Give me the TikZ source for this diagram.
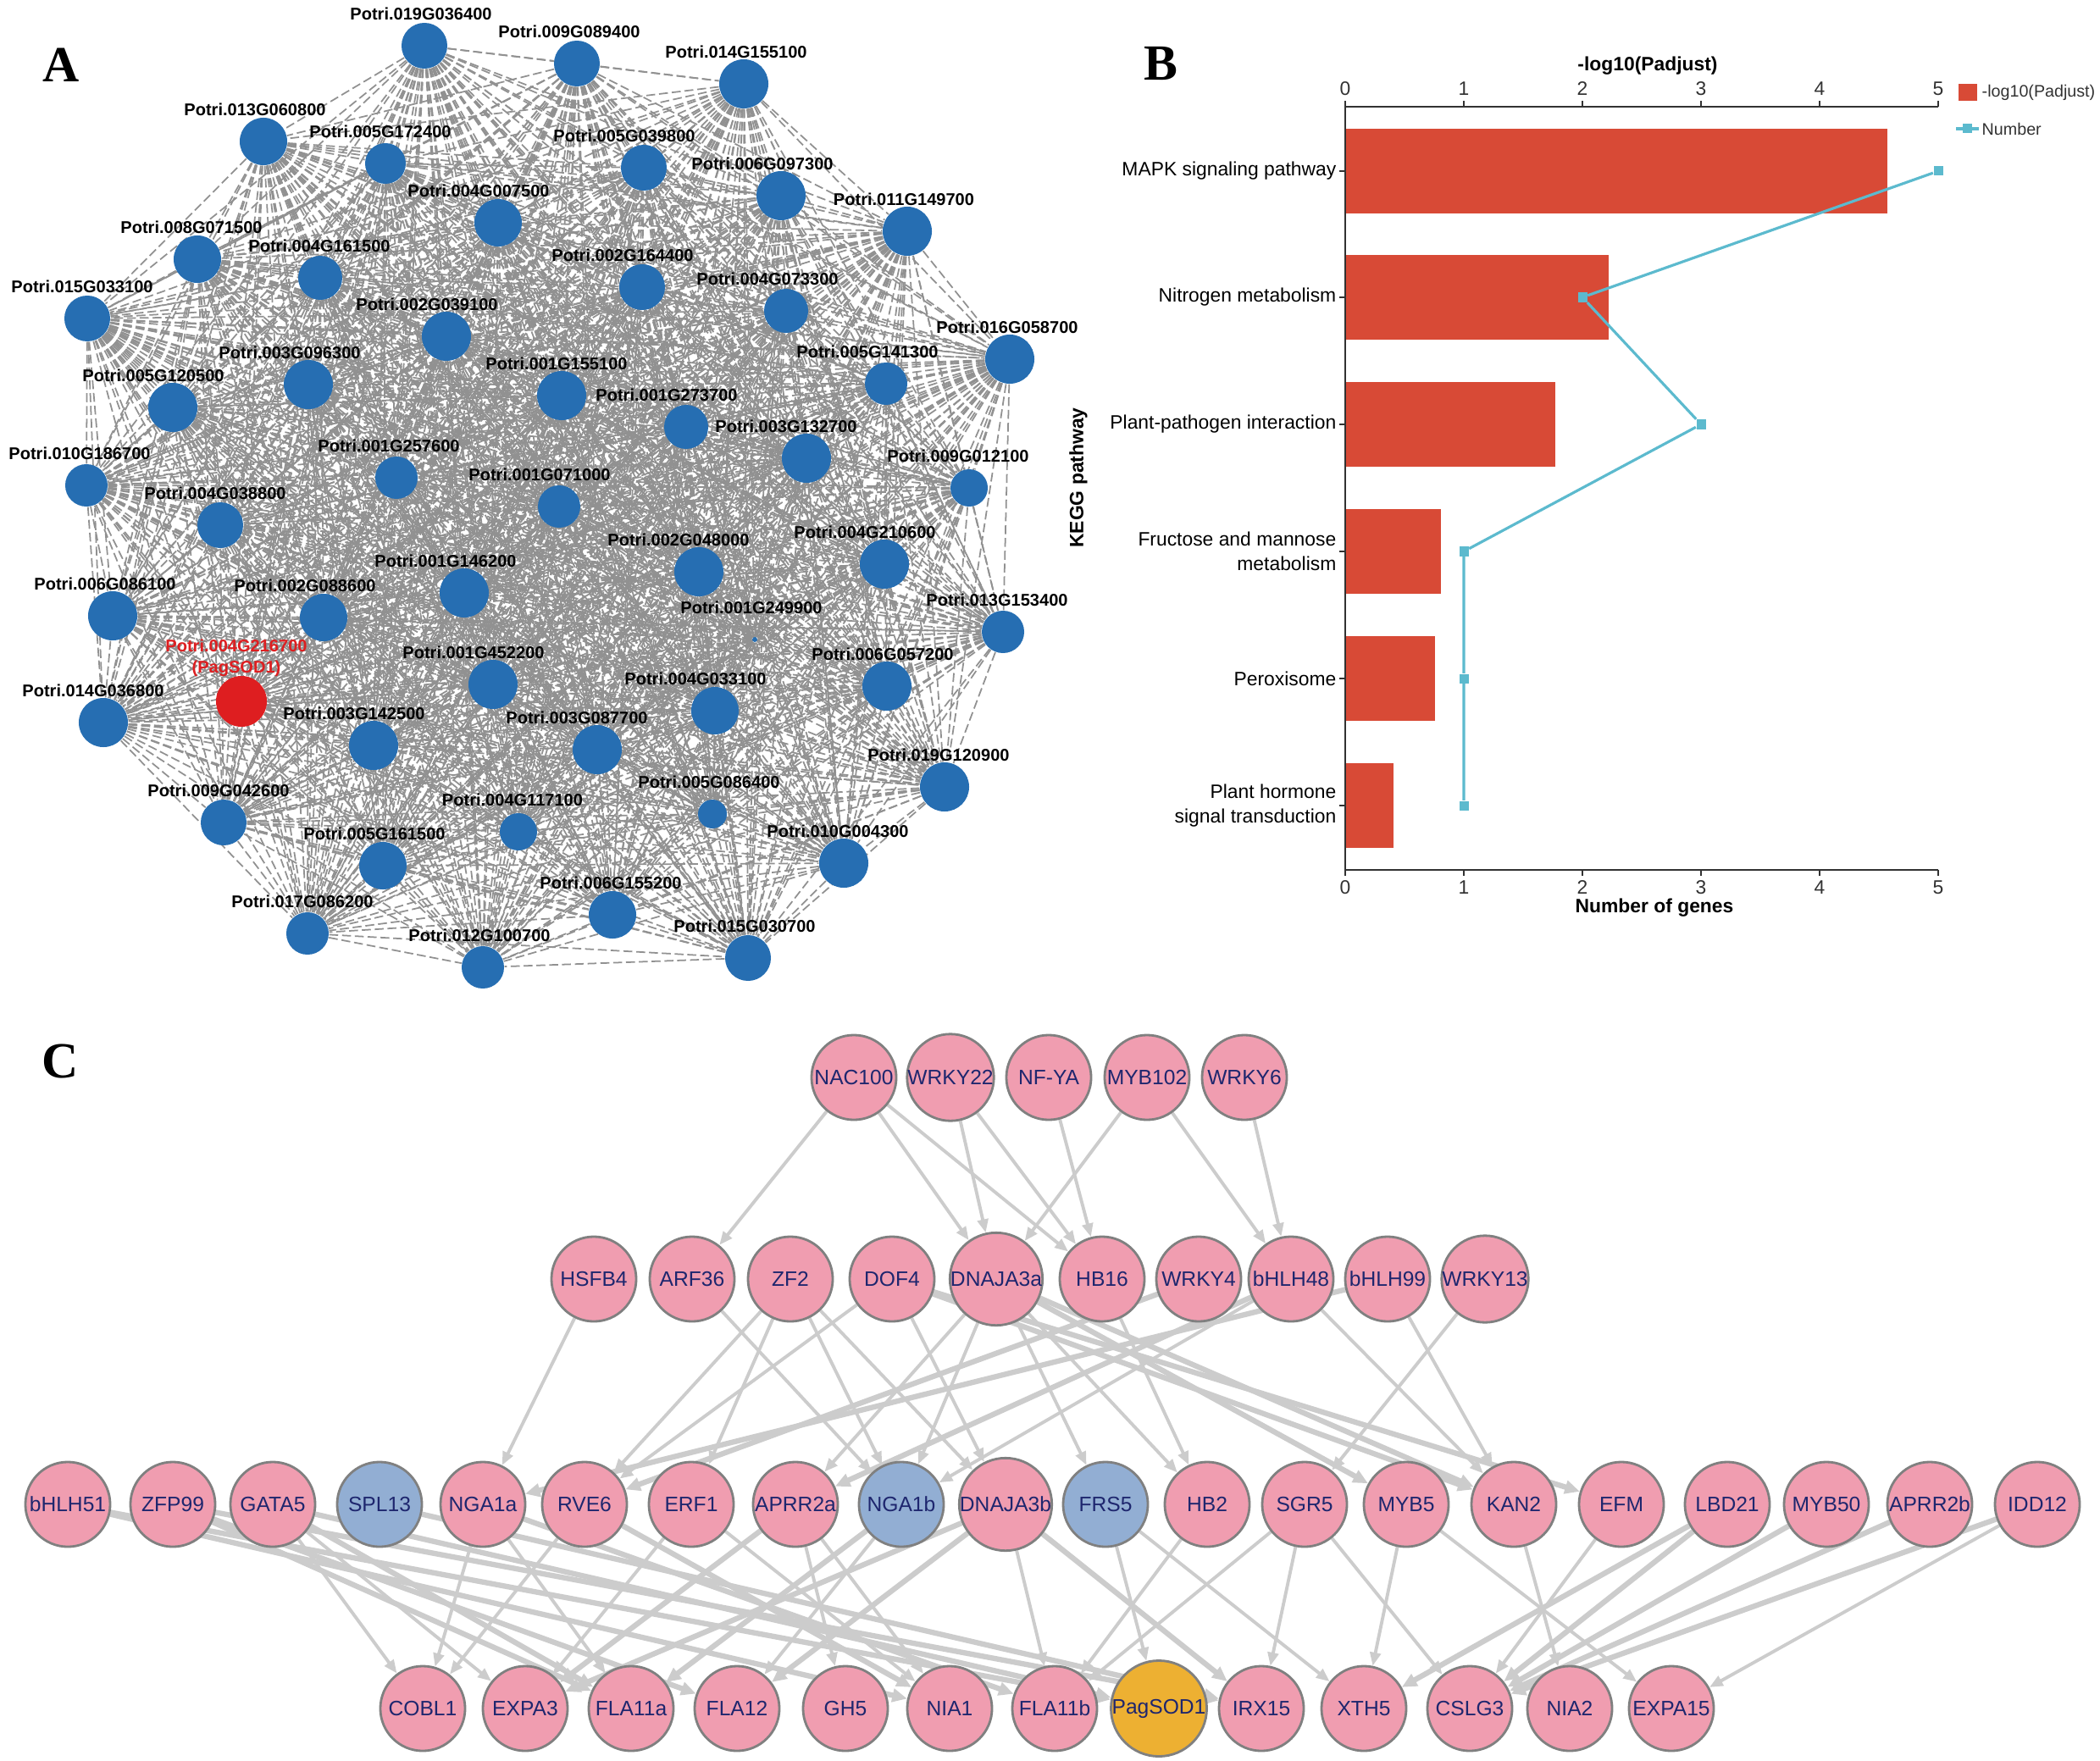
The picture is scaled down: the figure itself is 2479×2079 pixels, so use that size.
\documentclass[tikz,border=0pt]{standalone}
\usepackage{fontspec}
\setmainfont{Liberation Sans}
\newfontfamily\letterfont{Liberation Serif}
\usetikzlibrary{arrows.meta,backgrounds}

\definecolor{netblue}{RGB}{38,110,178}
\definecolor{netred}{RGB}{222,30,32}
\definecolor{edgegrey}{RGB}{145,145,145}
\definecolor{barred}{RGB}{216,74,54}
\definecolor{linecyan}{RGB}{92,186,206}
\definecolor{tfpink}{RGB}{240,157,176}
\definecolor{tfblue}{RGB}{146,174,211}
\definecolor{sodgold}{RGB}{237,176,50}
\definecolor{tfnavy}{RGB}{30,38,110}
\definecolor{regrey}{RGB}{204,204,204}
\definecolor{axisgrey}{RGB}{50,50,50}

\tikzset{
  panel/.style={font=\letterfont\bfseries\fontsize{17}{17}\selectfont, inner sep=0pt},
  gene/.style={circle, fill=netblue, inner sep=0pt, minimum size=#1*0.2mm},
  genelabel/.style={font=\bfseries\fontsize{5.7}{7.1}\selectfont, inner sep=0pt},
  coexp/.style={draw=edgegrey, line width=0.5pt, dash pattern=on 3pt off 1.3pt},
  axisline/.style={draw=axisgrey, line width=0.5pt},
  ticklabel/.style={font=\fontsize{6.5}{7.5}\selectfont, text=axisgrey, inner sep=0pt},
  axistitle/.style={font=\bfseries\fontsize{6.5}{7.5}\selectfont, inner sep=0pt},
  catlabel/.style={font=\fontsize{6.5}{8.4}\selectfont, align=right, anchor=east, inner sep=0pt},
  numsq/.style={rectangle, fill=linecyan, minimum size=1.1mm, inner sep=0pt},
  numline/.style={draw=linecyan, line width=0.9pt},
  tf/.style={circle, draw=black!50, line width=0.8pt, fill=tfpink, minimum size=1cm,
    inner sep=0pt, font=\fontsize{7}{8}\selectfont, text=tfnavy},
  reg/.style={draw=regrey, line width=1.1pt, -{Triangle[length=4.5pt,width=3.6pt]}},
  regthick/.style={draw=regrey, line width=1.8pt, -{Triangle[length=5pt,width=4.4pt]}}
}

\begin{document}
\begin{tikzpicture}[x=0.01cm, y=-0.01cm]
  \useasboundingbox (0,0) rectangle (2479,2079);

  % panel letters
  \node[panel] (pA) at (72,77) {A};
  \node[panel] (pB) at (1370,75) {B};
  \node[panel] (pC) at (71,1253) {C};

  % A: co-expression network
  \foreach \n/\x/\y/\r/\lx/\t in {
    1/501/54/27/497/019G036400, 2/681/75/27/672/009G089400, 3/878/99/29/869/014G155100,
    4/311/167/28/301/013G060800, 5/455/193/24/449/005G172400, 6/760/198/27/737/005G039800,
    7/922/231/29/900/006G097300, 8/588/263/28/565/004G007500, 9/1071/273/29/1067/011G149700,
    10/233/306/28/226/008G071500, 11/378/328/26/377/004G161500, 12/758/339/27/735/002G164400,
    13/928/367/26/906/004G073300, 14/103/376/27/97/015G033100, 15/527/397/29/504/002G039100,
    16/1192/424/29/1189/016G058700, 17/364/454/29/342/003G096300, 18/1046/453/25/1024/005G141300,
    19/204/481/29/181/005G120500, 20/663/467/29/657/001G155100, 21/810/504/26/787/001G273700,
    22/952/541/29/928/003G132700, 23/102/573/25/94/010G186700, 24/468/564/25/459/001G257600,
    25/1144/576/22/1131/009G012100, 26/660/598/25/637/001G071000, 27/260/620/27/254/004G038800,
    28/825/675/29/801/002G048000, 29/1044/666/29/1021/004G210600, 30/548/700/29/526/001G146200,
    31/133/727/29/124/006G086100, 32/382/729/28/360/002G088600, 33/891/755/3/887/001G249900,
    34/1184/746/25/1177/013G153400, 35/582/808/29/559/001G452200, 36/1047/810/29/1042/006G057200,
    38/844/839/28/821/004G033100, 39/122/853/29/110/014G036800, 40/441/880/29/418/003G142500,
    41/705/885/29/681/003G087700, 42/1115/929/29/1108/019G120900, 43/264/971/27/258/009G042600,
    44/841/961/17/837/005G086400, 45/612/982/22/605/004G117100, 46/452/1022/28/442/005G161500,
    47/996/1019/29/989/010G004300, 48/723/1080/28/721/006G155200, 49/363/1102/25/357/017G086200,
    50/883/1131/27/879/015G030700, 51/570/1142/25/566/012G100700}{
    \node[gene=\r] (g\n) at (\x,\y) {};
    \node[genelabel] (gl\n) at ({\lx},{\y-38}) {Potri.\t};
  }
  \node[gene=30, fill=netred] (g37) at (285,828) {};
  \node[genelabel, text=netred, align=center] (gl37) at (279,777) {Potri.004G216700\\(PagSOD1)};

  \begin{scope}[on background layer]
    \foreach \i in {1,...,50}{
      \pgfmathtruncatemacro\k{\i+1}
      \foreach \j in {\k,...,51}{
        \draw[coexp] (g\i) -- (g\j);
      }
    }
  \end{scope}

  % B: KEGG enrichment
  \foreach \i/\y/\v/\m/\t in {
    1/202/4.57/5/{MAPK signaling pathway},
    2/351/2.22/2/{Nitrogen metabolism},
    3/501/1.77/3/{Plant-pathogen interaction},
    4/651/0.81/1/{Fructose and mannose\\metabolism},
    5/801/0.76/1/{Peroxisome},
    6/951/0.41/1/{Plant hormone\\signal transduction}}{
    \fill[barred] (1588,\y-50) rectangle ({1588+140*\v},\y+50);
    \draw[axisline] (1581,\y) -- (1588,\y);
    \node[catlabel] (cat\i) at (1578,\y) {\t};
    \node[numsq] (m\i) at ({1588+140*\m},\y) {};
  }
  \draw[numline] (m1) -- (m2) -- (m3) -- (m4) -- (m5) -- (m6);

  \draw[axisline] (1588,126) -- (1588,1027);
  \draw[axisline] (1588,126) -- (2288,126);
  \draw[axisline] (1588,1027) -- (2288,1027);
  \foreach \v in {0,...,5}{
    \draw[axisline] ({1588+140*\v},126) -- ++(0,-7);
    \draw[axisline] ({1588+140*\v},1027) -- ++(0,7);
    \node[ticklabel] (tt\v) at ({1588+140*\v},105) {\v};
    \node[ticklabel] (tb\v) at ({1588+140*\v},1048) {\v};
  }
  \node[axistitle] (topt) at (1945,78) {-log10(Padjust)};
  \node[axistitle] (bott) at (1953,1072) {Number of genes};
  \node[axistitle, rotate=90] (yt) at (1273,564) {KEGG pathway};

  % B legend
  \fill[barred] (2312,99) rectangle (2334,119);
  \node[ticklabel, anchor=west, font=\fontsize{5.6}{6.5}\selectfont] (lg1) at (2339,109) {-log10(Padjust)};
  \coordinate (lgl) at (2309,152);
  \coordinate (lgr) at (2336,152);
  \draw[numline] (lgl) -- (lgr);
  \node[numsq] (lgm) at (2322,152) {};
  \node[ticklabel, anchor=west, font=\fontsize{5.6}{6.5}\selectfont] (lg2) at (2339,152) {Number};

  % C: regulatory network
  \foreach \n/\x/\t in {NAC100/1008/NAC100, WRKY22/1122/WRKY22, NFYA/1238/NF-YA,
    MYB102/1354/MYB102, WRKY6/1469/WRKY6}
    \node[tf] (\n) at (\x,1272) {\t};
  \foreach \n/\x in {HSFB4/701, ARF36/817, ZF2/933, DOF4/1053, DNAJA3a/1176, HB16/1301,
    WRKY4/1415, bHLH48/1524, bHLH99/1638, WRKY13/1753}
    \node[tf] (\n) at (\x,1510) {\n};
  \foreach \n/\x/\c in {bHLH51/80/tfpink, ZFP99/204/tfpink, GATA5/322/tfpink, SPL13/448/tfblue,
    NGA1a/570/tfpink, RVE6/690/tfpink, ERF1/816/tfpink, APRR2a/939/tfpink, NGA1b/1064/tfblue,
    DNAJA3b/1187/tfpink, FRS5/1305/tfblue, HB2/1425/tfpink, SGR5/1540/tfpink, MYB5/1660/tfpink,
    KAN2/1787/tfpink, EFM/1914/tfpink, LBD21/2039/tfpink, MYB50/2156/tfpink,
    APRR2b/2278/tfpink, IDD12/2405/tfpink}
    \node[tf, fill=\c] (\n) at (\x,1776) {\n};
  \foreach \n/\x in {COBL1/499, EXPA3/620, FLA11a/745, FLA12/870, GH5/998, NIA1/1121,
    FLA11b/1245, IRX15/1489, XTH5/1610, CSLG3/1735, NIA2/1853, EXPA15/1973}
    \node[tf] (\n) at (\x,2017) {\n};
  \node[tf, fill=sodgold] (SOD) at (1368,2017) {PagSOD1};

  \begin{scope}[on background layer]
    \foreach \a/\b in {NAC100/ARF36, NAC100/DNAJA3a, NAC100/HB16, WRKY22/DNAJA3a, WRKY22/HB16,
      NFYA/HB16, MYB102/DNAJA3a, MYB102/bHLH48, WRKY6/bHLH48,
      HSFB4/NGA1a, ARF36/NGA1b, ZF2/RVE6, ZF2/ERF1, ZF2/NGA1b, ZF2/DNAJA3b, DOF4/RVE6,
      DOF4/DNAJA3b, DNAJA3a/APRR2a, DNAJA3a/NGA1b, DNAJA3a/FRS5, DNAJA3a/HB2, HB16/HB2,
      bHLH48/NGA1b, bHLH48/KAN2, bHLH99/KAN2, WRKY13/SGR5,
      GATA5/COBL1, GATA5/EXPA3, NGA1a/COBL1, NGA1a/FLA11a, RVE6/COBL1, ERF1/EXPA3, ERF1/NIA1,
      APRR2a/GH5, APRR2a/NIA1, NGA1b/FLA12, DNAJA3b/FLA11b, FRS5/SOD, FRS5/XTH5, HB2/FLA11b,
      SGR5/FLA11b, SGR5/IRX15, SGR5/CSLG3, MYB5/XTH5, MYB5/EXPA15, KAN2/NIA2, EFM/CSLG3,
      IDD12/EXPA15}
      \draw[reg] (\a) -- (\b);
    \foreach \a/\b in {WRKY4/RVE6, bHLH99/NGA1a, bHLH48/APRR2a, DOF4/KAN2, DOF4/EFM,
      DNAJA3a/KAN2, DNAJA3a/MYB5,
      bHLH51/SOD, bHLH51/NIA1, ZFP99/FLA11a, ZFP99/FLA12, ZFP99/IRX15, GATA5/FLA11a, GATA5/SOD,
      SPL13/IRX15, NGA1a/FLA11b, RVE6/NIA1, APRR2a/EXPA3, NGA1b/FLA11a, DNAJA3b/FLA12,
      DNAJA3b/EXPA3, DNAJA3b/IRX15, LBD21/XTH5, LBD21/CSLG3, MYB50/CSLG3, APRR2b/CSLG3,
      IDD12/CSLG3}
      \draw[regthick] (\a) -- (\b);
  \end{scope}
\end{tikzpicture}
\end{document}
